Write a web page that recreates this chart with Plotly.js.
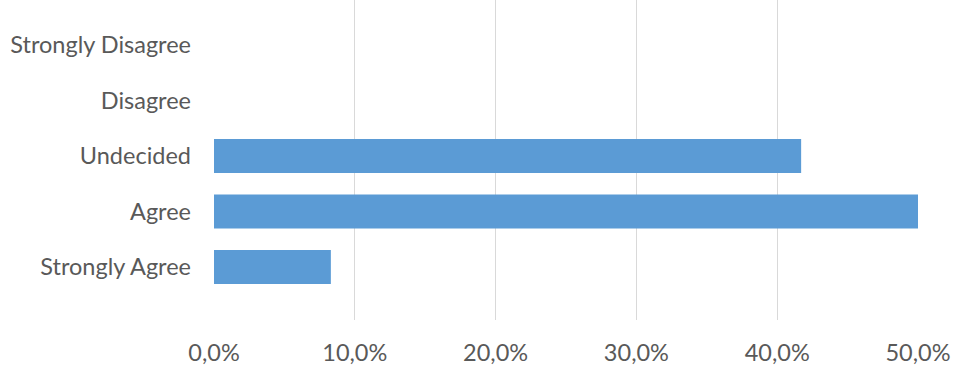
<!DOCTYPE html>
<html>
<head>
<meta charset="utf-8">
<script src="https://cdn.plot.ly/plotly-3.0.1.min.js"></script>
<style>html,body{margin:0;padding:0;background:#fff;}#chart{width:955px;height:366px;}</style>
</head>
<body>
<div id="chart"></div>
<script>
const categories = ["Strongly Agree", "Agree", "Undecided", "Disagree", "Strongly Disagree"];
const values = [0.083, 0.5, 0.417, 0, 0];
const xTickValues = [0, 0.1, 0.2, 0.3, 0.4, 0.5];

const trace = {
  type: 'bar',
  orientation: 'h',
  y: categories,
  x: values,
  width: 0.61,
  marker: {color: '#5B9BD5'},
  hoverinfo: 'skip'
};

const layout = {
  width: 955,
  height: 366,
  margin: {l: 214, r: 37, t: 0, b: 46},
  paper_bgcolor: '#ffffff',
  plot_bgcolor: '#ffffff',
  separators: ',.',
  showlegend: false,
  font: {family: 'Lato, "Open Sans", sans-serif', color: '#595959', size: 23.5},
  xaxis: {
    range: [0, 0.5],
    tickvals: xTickValues,
    tickformat: '.1%',
    showgrid: true,
    gridcolor: '#d9d9d9',
    gridwidth: 1,
    zeroline: false,
    showline: false,
    ticks: '',
    ticklabelstandoff: 16,
    tickfont: {size: 23.5, color: '#595959'},
    fixedrange: true
  },
  yaxis: {
    type: 'category',
    categoryorder: 'array',
    categoryarray: categories,
    range: [-0.955, 4.81],
    showgrid: false,
    zeroline: false,
    showline: false,
    ticks: '',
    ticklabelstandoff: 22,
    tickfont: {size: 23.5, color: '#595959'},
    fixedrange: true
  }
};

Plotly.newPlot('chart', [trace], layout, {displayModeBar: false, staticPlot: true});
</script>
</body>
</html>
